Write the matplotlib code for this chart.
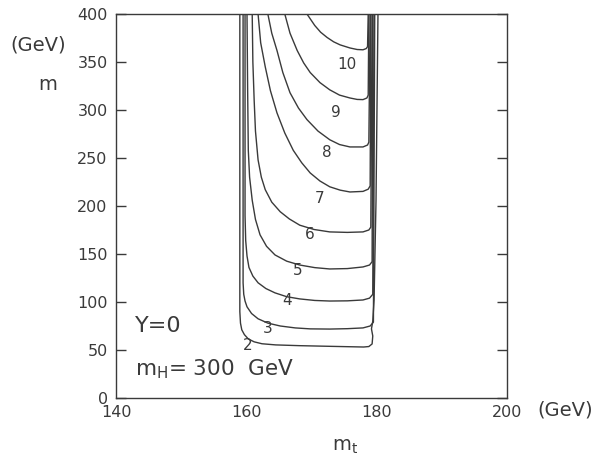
import matplotlib
matplotlib.use("Agg")
import matplotlib.pyplot as plt

plt.rcParams["font.family"] = ["DejaVu Sans"]
plt.rcParams["mathtext.fontset"] = "custom"
plt.rcParams["mathtext.rm"] = "DejaVu Sans"

INK = "#3a3a3a"

# traced contour lines (m_t in GeV, m in GeV), one level per list
LEVELS = [2, 3, 4, 5, 6, 7, 8, 9, 10]

C2_X = [159.0, 159.0, 159.1, 159.3, 159.7, 160.3, 161.2, 162.4, 164.5, 168.2, 173.0,
        178.0, 178.8, 179.3, 179.4, 179.2, 179.4, 179.6, 179.9, 180.2]
C2_Y = [400, 90, 78, 71, 66, 61.5, 58.5, 56.5, 55.3, 54.5, 53.8,
        53.1, 53.6, 56.3, 64.6, 72, 80, 102, 206, 400]
C3_X = [159.5, 159.5, 159.6, 159.8, 160.1, 160.8, 161.8, 163.3, 165.2, 167.5, 169.8,
        172.8, 175.5, 177.9, 179.0, 179.5, 179.7]
C3_Y = [400, 120, 108, 101, 95, 88, 82.5, 78, 75, 73, 72,
        71.8, 72.2, 73, 75, 79, 400]
C4_X = [159.8, 159.8, 159.9, 160.1, 160.4, 161.0, 161.8, 163.0, 164.4, 166.2, 168.2,
        170.5, 172.8, 175.5, 177.9, 178.9, 179.4, 179.6]
C4_Y = [400, 190, 164, 148, 136, 127, 120, 114, 109.5, 105.5, 103.2,
        101.6, 101, 101.2, 102.1, 104, 108, 400]
C5_X = [160.1, 160.2, 160.3, 160.5, 160.9, 161.4, 162.1, 163.1, 164.4, 166.2, 168.2,
        170.5, 172.8, 175.5, 177.9, 178.9, 179.3, 179.4]
C5_Y = [400, 320, 258, 230, 206, 186, 170, 158, 149, 142.5, 138.5,
        135.8, 134.4, 134.8, 136.5, 138.5, 142, 400]
C6_X = [160.9, 161.0, 161.2, 161.4, 161.8, 162.3, 162.9, 163.9, 165.2, 166.6, 168.2,
        170.4, 172.8, 175.5, 177.9, 178.8, 179.1, 179.3]
C6_Y = [400, 350, 310, 278, 248, 230, 217, 204, 194, 186.5, 180,
        175.5, 173, 172.5, 173, 175, 178, 400]
C7_X = [161.8, 162.2, 162.9, 163.7, 164.7, 165.9, 167.2, 168.5, 169.8, 171.3, 172.8,
        174.4, 175.9, 177.9, 178.7, 179.0, 179.1]
C7_Y = [400, 370, 345, 320, 297, 276, 258, 245, 234.4, 226, 220,
        216.5, 214.6, 215.2, 217.5, 221, 400]
C8_X = [163.3, 163.9, 164.7, 165.6, 166.7, 168.0, 169.3, 171.0, 172.8, 174.3, 175.9,
        177.9, 178.6, 178.8, 179.0]
C8_Y = [400, 380, 362, 339, 318, 302, 290, 278, 269, 264, 261.5,
        261.5, 263.5, 266.5, 400]
C9_X = [165.9, 166.7, 167.8, 168.8, 169.8, 171.3, 172.8, 174.3, 175.9, 177.0, 177.9,
        178.5, 178.7, 178.8]
C9_Y = [400, 380, 362, 349, 339, 328.5, 321, 315.5, 312.5, 311, 310.8,
        312.5, 315.5, 400]
C10_X = [169.3, 170.5, 171.4, 172.4, 173.4, 174.4, 175.9, 177.0, 177.9, 178.4, 178.6, 178.7]
C10_Y = [400, 388, 381, 375.5, 371, 367.8, 364.6, 363, 362.7, 364, 366, 400]

CURVES_X = [C2_X, C3_X, C4_X, C5_X, C6_X, C7_X, C8_X, C9_X, C10_X]
CURVES_Y = [C2_Y, C3_Y, C4_Y, C5_Y, C6_Y, C7_Y, C8_Y, C9_Y, C10_Y]

# where each level number is written
LABEL_X = [160.25, 163.3, 166.2, 167.9, 169.8, 171.3, 172.4, 173.8, 175.4]
LABEL_Y = [54.2, 72.9, 102.0, 133.3, 170.8, 208.3, 255.2, 297.9, 346.9]

X_TICKS = [140, 160, 180, 200]
Y_TICKS = [0, 50, 100, 150, 200, 250, 300, 350, 400]

fig = plt.figure(figsize=(6.03, 4.63), dpi=100)
ax = fig.add_axes([0.1924, 0.1404, 0.6484, 0.8294])

for cx, cy in zip(CURVES_X, CURVES_Y):
    ax.plot(cx, cy, color=INK, lw=1.0, solid_joinstyle="round")

for lv, lx, ly in zip(LEVELS, LABEL_X, LABEL_Y):
    ax.text(lx, ly, str(lv), fontsize=11, color=INK, ha="center", va="center")

ax.set_xlim(140, 200)
ax.set_ylim(0, 400)
ax.set_xticks(X_TICKS)
ax.set_yticks(Y_TICKS)
ax.tick_params(axis="x", length=0, pad=5, labelsize=11.5, colors=INK)
ax.tick_params(axis="y", direction="in", length=7, width=1.0, right=True,
               labelsize=11.5, colors=INK, pad=6)
for sp in ax.spines.values():
    sp.set_color(INK)
    sp.set_linewidth(1.0)

ax.text(142.9, 75, "Y=0", fontsize=16, color=INK, va="center", ha="left")
ax.text(142.9, 30, r"m$_{\rm H}$= 300  GeV", fontsize=15.5, color=INK, va="center", ha="left")

fig.text(38 / 603, 1 - 45 / 463, "(GeV)", fontsize=14, color=INK, ha="center", va="center")
fig.text(48 / 603, 1 - 85 / 463, "m", fontsize=14, color=INK, ha="center", va="center")
fig.text(565 / 603, 1 - 410 / 463, "(GeV)", fontsize=14, color=INK, ha="center", va="center")
fig.text(345 / 603, 1 - 447 / 463, r"m$_{\rm t}$", fontsize=14, color=INK, ha="center", va="center")

fig.savefig("out.png", dpi=100)
